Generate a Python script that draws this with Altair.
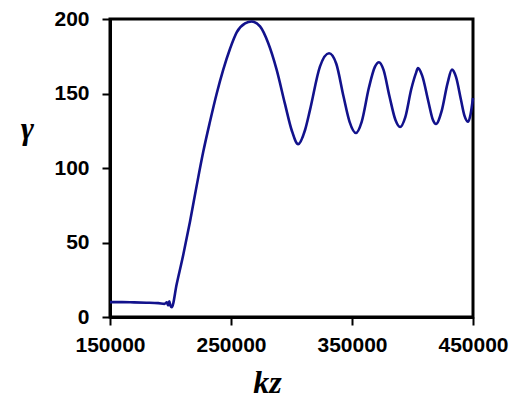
import altair as alt
import pandas as pd

kz = [150000, 160000, 170000, 180000, 190000, 195000, 197000, 198000, 199000, 200000,
      201000, 205100, 210600, 216100, 221600, 227100, 232600, 238200, 243600, 249200,
      254700, 261600, 267100, 274000, 280800, 287700, 294600, 300100, 305500,
      311200, 315300, 323500, 331000, 337000, 343000, 348000, 353300, 358000, 364000,
      369000, 372300, 376000, 381000, 386000, 389700, 394000, 399000, 403000, 404500,
      408000, 413000, 417000, 419400, 424000, 429000, 432600, 436000, 440000, 443000,
      446000, 448000, 450000]
gamma = [10, 10, 9.8, 9.6, 9.3, 8.8, 9.8, 7.8, 10.5, 7.5,
         6.5, 22, 42, 64, 88, 111, 131, 150, 166, 180,
         191, 197, 198.3, 195, 183.7, 166, 143, 125.5, 116,
         125.5, 139, 168, 177, 170, 148, 131, 123.5, 131, 154,
         168, 171, 166, 148, 132, 127.5, 134, 153, 164, 167,
         162, 145, 132, 129.5, 138, 157, 166, 161, 146, 135,
         131, 136, 147]

x_ticks = [150000, 250000, 350000, 450000]
y_ticks = [0, 50, 100, 150, 200]

df = pd.DataFrame({"kz": kz, "gamma": gamma})

chart = alt.Chart(df).mark_line(
    color="#12128c", strokeWidth=2.6, interpolate="monotone"
).encode(
    x=alt.X("kz:Q",
            scale=alt.Scale(domain=[150000, 450000], nice=False, zero=False),
            axis=alt.Axis(values=x_ticks, format="d", title="kz",
                          titleFont="Liberation Serif", titleFontStyle="italic",
                          titleFontWeight="bold", titleFontSize=32,
                          titleAlign="center", titleBaseline="alphabetic",
                          titleX=157, titleY=75, titleColor="black",
                          labelFont="Liberation Sans", labelFontSize=21,
                          labelFontWeight="bold", labelColor="black",
                          labelPadding=9, labelFlush=False,
                          tickSize=8, tickWidth=2, tickColor="black",
                          domainColor="black", domainWidth=3, grid=False)),
    y=alt.Y("gamma:Q",
            scale=alt.Scale(domain=[0, 200], nice=False),
            axis=alt.Axis(values=y_ticks, title="γ",
                          titleFont="Liberation Serif", titleFontStyle="italic",
                          titleFontWeight="bold", titleFontSize=32, titleAngle=0,
                          titleAlign="center", titleBaseline="alphabetic",
                          titleX=-83, titleY=119, titleColor="black",
                          labelFont="Liberation Sans", labelFontSize=21,
                          labelFontWeight="bold", labelColor="black",
                          labelPadding=13, labelFlush=False,
                          tickSize=8, tickWidth=2, tickColor="black",
                          domainColor="black", domainWidth=3, grid=False)),
).properties(
    width=363, height=298,
    autosize=alt.AutoSizeParams(type="none"),
    padding={"left": 102, "top": 11, "right": 40, "bottom": 90},
).configure_view(stroke="black", strokeWidth=3)

chart.save("out.html", embed_options={"renderer": "svg", "actions": False})
